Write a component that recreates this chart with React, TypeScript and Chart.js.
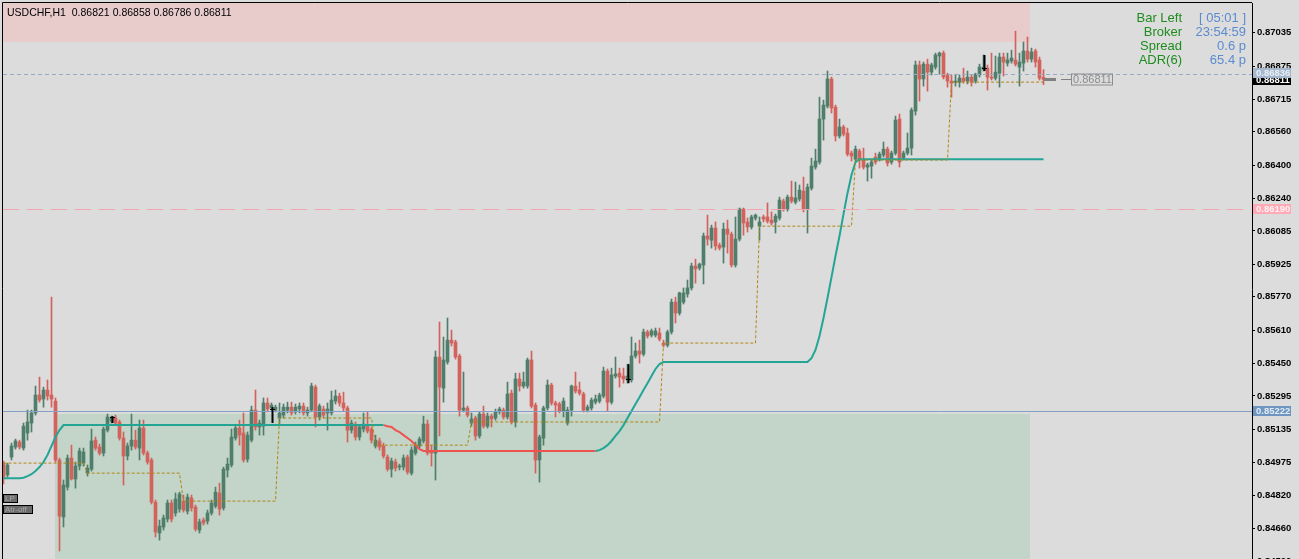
import React, { useEffect, useRef } from 'react';
import { Chart, registerables } from 'chart.js';

Chart.register(...registerables);

// ---------------- data ----------------
const SYMBOL = 'USDCHF,H1';

const opens = [
  0.84973, 0.84916, 0.85002, 0.85050, 0.85074, 0.85045, 0.85117, 0.85165, 0.85213, 0.85299,
  0.85280, 0.85323, 0.85299, 0.85270, 0.84988, 0.84715, 0.84858, 0.84997, 0.84897, 0.84959,
  0.84973, 0.84925, 0.84944, 0.85083, 0.85050, 0.85021, 0.85131, 0.85174, 0.85189, 0.85170,
  0.85093, 0.85007, 0.85055, 0.85083, 0.85045, 0.85141, 0.85021, 0.84988, 0.84786, 0.84638,
  0.84667, 0.84705, 0.84782, 0.84734, 0.84753, 0.84791, 0.84743, 0.84806, 0.84762, 0.84652,
  0.84700, 0.84695, 0.84734, 0.84767, 0.84830, 0.84758, 0.84940, 0.84964, 0.85093, 0.85141,
  0.85117, 0.84992, 0.85083, 0.85227, 0.85146, 0.85150, 0.85261, 0.85237, 0.85227, 0.85189,
  0.85203, 0.85227, 0.85241, 0.85218, 0.85232, 0.85246, 0.85213, 0.85227, 0.85337, 0.85194,
  0.85232, 0.85213, 0.85213, 0.85270, 0.85294, 0.85261, 0.85237, 0.85131, 0.85155, 0.85098,
  0.85136, 0.85150, 0.85136, 0.85055, 0.85079, 0.85055, 0.85002, 0.84944, 0.84978, 0.84954,
  0.84954, 0.85002, 0.84925, 0.85021, 0.85055, 0.85079, 0.85160, 0.85031, 0.85021, 0.85481,
  0.85332, 0.85457, 0.85562, 0.85553, 0.85486, 0.85227, 0.85237, 0.85165, 0.85189, 0.85103,
  0.85208, 0.85150, 0.85198, 0.85189, 0.85218, 0.85227, 0.85194, 0.85308, 0.85170, 0.85376,
  0.85342, 0.85342, 0.85467, 0.85251, 0.84988, 0.85093, 0.85237, 0.85347, 0.85261, 0.85256,
  0.85222, 0.85165, 0.85227, 0.85342, 0.85323, 0.85304, 0.85227, 0.85237, 0.85265, 0.85270,
  0.85294, 0.85414, 0.85265, 0.85390, 0.85404, 0.85390, 0.85371, 0.85371, 0.85486, 0.85510,
  0.85495, 0.85601, 0.85586, 0.85586, 0.85596, 0.85548, 0.85538, 0.85601, 0.85744, 0.85692,
  0.85744, 0.85783, 0.85812, 0.85917, 0.85907, 0.85922, 0.86061, 0.86041, 0.86099, 0.86017,
  0.86008, 0.86094, 0.86070, 0.85922, 0.86046, 0.86190, 0.86128, 0.86104, 0.86147, 0.86108,
  0.86152, 0.86152, 0.86137, 0.86128, 0.86147, 0.86228, 0.86190, 0.86247, 0.86223, 0.86238,
  0.86276, 0.86190, 0.86290, 0.86391, 0.86415, 0.86621, 0.86683, 0.86813, 0.86678, 0.86540,
  0.86583, 0.86554, 0.86458, 0.86429, 0.86468, 0.86429, 0.86391, 0.86396, 0.86439, 0.86429,
  0.86449, 0.86477, 0.86415, 0.86458, 0.86621, 0.86434, 0.86458, 0.86482, 0.86659, 0.86880,
  0.86813, 0.86884, 0.86846, 0.86870, 0.86923, 0.86937, 0.86832, 0.86803, 0.86798, 0.86798,
  0.86817, 0.86803, 0.86822, 0.86803, 0.86832, 0.86860, 0.86865, 0.86822, 0.86817, 0.86841,
  0.86918, 0.86889, 0.86899, 0.86904, 0.86870, 0.86889, 0.86947, 0.86908, 0.86947, 0.86904,
  0.86821,
];

const highs = [
  0.84983, 0.84973, 0.85069, 0.85088, 0.85083, 0.85165, 0.85227, 0.85227, 0.85342, 0.85385,
  0.85337, 0.85371, 0.85768, 0.85285, 0.84997, 0.84892, 0.85012, 0.85059, 0.84978, 0.85045,
  0.85045, 0.84964, 0.85136, 0.85098, 0.85064, 0.85146, 0.85208, 0.85198, 0.85203, 0.85179,
  0.85122, 0.85069, 0.85208, 0.85131, 0.85179, 0.85179, 0.85031, 0.84997, 0.84796, 0.84700,
  0.84724, 0.84796, 0.84796, 0.84830, 0.84834, 0.84820, 0.84825, 0.84820, 0.84772, 0.84705,
  0.84710, 0.84748, 0.84796, 0.84858, 0.84877, 0.84954, 0.84997, 0.85136, 0.85155, 0.85179,
  0.85213, 0.85122, 0.85246, 0.85323, 0.85179, 0.85285, 0.85285, 0.85261, 0.85251, 0.85261,
  0.85256, 0.85265, 0.85265, 0.85256, 0.85261, 0.85261, 0.85241, 0.85356, 0.85347, 0.85256,
  0.85246, 0.85261, 0.85318, 0.85323, 0.85308, 0.85313, 0.85246, 0.85179, 0.85170, 0.85155,
  0.85213, 0.85218, 0.85146, 0.85107, 0.85093, 0.85069, 0.85012, 0.84997, 0.84992, 0.84968,
  0.85012, 0.85012, 0.85050, 0.85074, 0.85098, 0.85198, 0.85179, 0.85059, 0.85510, 0.85649,
  0.85577, 0.85668, 0.85610, 0.85562, 0.85495, 0.85409, 0.85246, 0.85213, 0.85198, 0.85218,
  0.85246, 0.85213, 0.85208, 0.85232, 0.85241, 0.85237, 0.85361, 0.85323, 0.85404, 0.85404,
  0.85409, 0.85476, 0.85510, 0.85261, 0.85107, 0.85246, 0.85371, 0.85356, 0.85270, 0.85265,
  0.85285, 0.85241, 0.85347, 0.85409, 0.85361, 0.85313, 0.85251, 0.85285, 0.85299, 0.85308,
  0.85433, 0.85424, 0.85428, 0.85481, 0.85428, 0.85428, 0.85447, 0.85577, 0.85548, 0.85562,
  0.85615, 0.85610, 0.85615, 0.85620, 0.85620, 0.85562, 0.85610, 0.85759, 0.85768, 0.85792,
  0.85812, 0.85850, 0.85931, 0.85950, 0.85931, 0.86075, 0.86161, 0.86113, 0.86128, 0.86027,
  0.86123, 0.86137, 0.86080, 0.86152, 0.86195, 0.86195, 0.86147, 0.86161, 0.86166, 0.86152,
  0.86161, 0.86219, 0.86176, 0.86166, 0.86247, 0.86238, 0.86257, 0.86324, 0.86319, 0.86305,
  0.86343, 0.86310, 0.86434, 0.86477, 0.86726, 0.86712, 0.86851, 0.86822, 0.86688, 0.86621,
  0.86592, 0.86578, 0.86468, 0.86492, 0.86477, 0.86482, 0.86410, 0.86425, 0.86458, 0.86463,
  0.86511, 0.86487, 0.86468, 0.86635, 0.86645, 0.86468, 0.86554, 0.86674, 0.86899, 0.86899,
  0.86894, 0.86908, 0.86889, 0.86937, 0.86942, 0.86947, 0.86841, 0.86832, 0.86836, 0.86832,
  0.86865, 0.86851, 0.86832, 0.86841, 0.86884, 0.86928, 0.86880, 0.86937, 0.86923, 0.86937,
  0.86937, 0.86937, 0.86951, 0.87042, 0.86937, 0.86990, 0.87014, 0.86961, 0.86956, 0.86918,
  0.86858,
];

const lows = [
  0.84873, 0.84906, 0.84988, 0.85040, 0.85040, 0.85035, 0.85083, 0.85122, 0.85203, 0.85265,
  0.85241, 0.85275, 0.85241, 0.84978, 0.84552, 0.84667, 0.84844, 0.84892, 0.84853, 0.84940,
  0.84959, 0.84911, 0.84935, 0.85035, 0.85012, 0.85007, 0.85122, 0.85165, 0.85155, 0.85083,
  0.84868, 0.84988, 0.85035, 0.85040, 0.84988, 0.85012, 0.84968, 0.84777, 0.84619, 0.84604,
  0.84652, 0.84691, 0.84691, 0.84719, 0.84738, 0.84738, 0.84729, 0.84743, 0.84647, 0.84638,
  0.84676, 0.84681, 0.84724, 0.84758, 0.84724, 0.84748, 0.84906, 0.84954, 0.85083, 0.85059,
  0.84978, 0.84978, 0.85074, 0.85131, 0.85107, 0.85107, 0.85218, 0.85227, 0.85218, 0.85155,
  0.85189, 0.85213, 0.85203, 0.85208, 0.85213, 0.85203, 0.85198, 0.85218, 0.85146, 0.85179,
  0.85189, 0.85131, 0.85203, 0.85256, 0.85246, 0.85222, 0.85074, 0.85117, 0.85083, 0.85083,
  0.85122, 0.85117, 0.85069, 0.85045, 0.85035, 0.84997, 0.84935, 0.84906, 0.84935, 0.84940,
  0.84940, 0.84920, 0.84916, 0.85012, 0.85045, 0.85069, 0.85012, 0.84959, 0.84892, 0.85103,
  0.85265, 0.85447, 0.85534, 0.85471, 0.85198, 0.85218, 0.85194, 0.85150, 0.85083, 0.85093,
  0.85141, 0.85141, 0.85146, 0.85179, 0.85208, 0.85184, 0.85184, 0.85160, 0.85146, 0.85318,
  0.85332, 0.85332, 0.85237, 0.84925, 0.84882, 0.85059, 0.85227, 0.85251, 0.85194, 0.85213,
  0.85194, 0.85155, 0.85198, 0.85308, 0.85299, 0.85218, 0.85218, 0.85227, 0.85256, 0.85261,
  0.85285, 0.85222, 0.85256, 0.85380, 0.85337, 0.85356, 0.85356, 0.85361, 0.85476, 0.85452,
  0.85486, 0.85572, 0.85577, 0.85577, 0.85558, 0.85529, 0.85529, 0.85591, 0.85644, 0.85682,
  0.85735, 0.85768, 0.85802, 0.85835, 0.85898, 0.85831, 0.86017, 0.86003, 0.85994, 0.85994,
  0.85931, 0.85979, 0.85912, 0.85912, 0.86037, 0.86065, 0.86080, 0.86094, 0.86137, 0.86041,
  0.86128, 0.86123, 0.86113, 0.86075, 0.86137, 0.86180, 0.86180, 0.86219, 0.86214, 0.86228,
  0.86176, 0.86075, 0.86281, 0.86381, 0.86405, 0.86520, 0.86674, 0.86650, 0.86516, 0.86530,
  0.86540, 0.86444, 0.86420, 0.86420, 0.86386, 0.86381, 0.86324, 0.86338, 0.86405, 0.86420,
  0.86439, 0.86396, 0.86405, 0.86449, 0.86391, 0.86425, 0.86449, 0.86449, 0.86640, 0.86707,
  0.86779, 0.86755, 0.86832, 0.86860, 0.86836, 0.86813, 0.86774, 0.86726, 0.86779, 0.86774,
  0.86793, 0.86789, 0.86779, 0.86793, 0.86822, 0.86851, 0.86760, 0.86808, 0.86808, 0.86774,
  0.86827, 0.86875, 0.86889, 0.86875, 0.86779, 0.86851, 0.86894, 0.86894, 0.86870, 0.86808,
  0.86786,
];

const closes = [
  0.84906, 0.84964, 0.85055, 0.85079, 0.85050, 0.85150, 0.85170, 0.85213, 0.85299, 0.85275,
  0.85323, 0.85294, 0.85280, 0.84988, 0.84719, 0.84868, 0.84997, 0.84897, 0.84959, 0.85031,
  0.85026, 0.84949, 0.85079, 0.85045, 0.85021, 0.85136, 0.85194, 0.85189, 0.85165, 0.85093,
  0.85007, 0.85055, 0.85083, 0.85050, 0.85141, 0.85021, 0.84978, 0.84786, 0.84643, 0.84671,
  0.84710, 0.84782, 0.84705, 0.84801, 0.84825, 0.84748, 0.84810, 0.84758, 0.84657, 0.84691,
  0.84686, 0.84734, 0.84782, 0.84834, 0.84753, 0.84944, 0.84968, 0.85098, 0.85141, 0.85107,
  0.84988, 0.85107, 0.85227, 0.85146, 0.85165, 0.85261, 0.85232, 0.85251, 0.85241, 0.85213,
  0.85241, 0.85241, 0.85213, 0.85241, 0.85246, 0.85213, 0.85227, 0.85342, 0.85194, 0.85246,
  0.85203, 0.85232, 0.85275, 0.85294, 0.85261, 0.85237, 0.85131, 0.85165, 0.85098, 0.85146,
  0.85160, 0.85126, 0.85083, 0.85083, 0.85050, 0.85007, 0.84944, 0.84983, 0.84949, 0.84959,
  0.84997, 0.84930, 0.85035, 0.85059, 0.85088, 0.85160, 0.85021, 0.85021, 0.85481, 0.85337,
  0.85467, 0.85562, 0.85548, 0.85481, 0.85227, 0.85237, 0.85203, 0.85184, 0.85103, 0.85208,
  0.85150, 0.85198, 0.85184, 0.85218, 0.85232, 0.85194, 0.85304, 0.85170, 0.85376, 0.85342,
  0.85361, 0.85467, 0.85246, 0.84988, 0.85098, 0.85237, 0.85347, 0.85261, 0.85251, 0.85222,
  0.85270, 0.85227, 0.85342, 0.85318, 0.85308, 0.85227, 0.85241, 0.85275, 0.85280, 0.85299,
  0.85414, 0.85265, 0.85395, 0.85400, 0.85385, 0.85376, 0.85390, 0.85486, 0.85510, 0.85495,
  0.85601, 0.85582, 0.85606, 0.85606, 0.85567, 0.85538, 0.85601, 0.85744, 0.85692, 0.85788,
  0.85788, 0.85812, 0.85917, 0.85903, 0.85926, 0.86061, 0.86046, 0.86099, 0.86013, 0.86003,
  0.86094, 0.86070, 0.85922, 0.86046, 0.86190, 0.86123, 0.86104, 0.86152, 0.86161, 0.86128,
  0.86142, 0.86132, 0.86123, 0.86156, 0.86233, 0.86190, 0.86247, 0.86228, 0.86243, 0.86281,
  0.86190, 0.86295, 0.86396, 0.86420, 0.86621, 0.86688, 0.86813, 0.86674, 0.86540, 0.86583,
  0.86549, 0.86453, 0.86444, 0.86477, 0.86429, 0.86391, 0.86401, 0.86415, 0.86415, 0.86453,
  0.86477, 0.86410, 0.86458, 0.86616, 0.86415, 0.86458, 0.86482, 0.86664, 0.86880, 0.86813,
  0.86884, 0.86846, 0.86880, 0.86928, 0.86937, 0.86822, 0.86803, 0.86793, 0.86803, 0.86817,
  0.86803, 0.86822, 0.86798, 0.86836, 0.86870, 0.86870, 0.86822, 0.86817, 0.86846, 0.86918,
  0.86894, 0.86904, 0.86913, 0.86884, 0.86894, 0.86947, 0.86908, 0.86942, 0.86894, 0.86817,
  0.86811,
];

// price-axis tick labels (MT4 style, uneven)
const yTicks = [
  0.87035, 0.86875, 0.86715, 0.86560, 0.86400, 0.86240, 0.86085, 0.85925, 0.85770,
  0.85610, 0.85450, 0.85295, 0.85135, 0.84975, 0.84820, 0.84660, 0.84500,
];
const Y_MAX = 0.87177;
const Y_MIN = 0.84437;

// trailing stop line: [bar index, price]
const stopLine = [
  [0, 0.84901], [4, 0.84901], [5, 0.84903], [6, 0.84911], [7, 0.84920], [8, 0.84935],
  [9, 0.84954], [10, 0.84978], [11, 0.85012], [12, 0.85055], [13, 0.85098], [14, 0.85131],
  [15, 0.85155], [95, 0.85155], [96, 0.85150], [97, 0.85146], [98, 0.85131], [99, 0.85122],
  [100, 0.85107], [101, 0.85093], [102, 0.85079], [103, 0.85059], [104, 0.85040], [105, 0.85031],
  [148, 0.85031], [149, 0.85035], [150, 0.85045], [151, 0.85059], [152, 0.85079], [153, 0.85103],
  [154, 0.85126], [155, 0.85155], [156, 0.85189], [157, 0.85222], [158, 0.85256], [159, 0.85289],
  [160, 0.85323], [161, 0.85356], [162, 0.85390], [163, 0.85424], [164, 0.85447], [165, 0.85457],
  [201, 0.85457], [202, 0.85476], [203, 0.85515], [204, 0.85582], [205, 0.85668], [206, 0.85764],
  [207, 0.85864], [208, 0.85965], [209, 0.86061], [210, 0.86166], [211, 0.86266], [212, 0.86353],
  [213, 0.86415], [214, 0.86429], [260, 0.86429],
];
const stopDownFrom = 95;
const stopDownTo = 148;

// stepped level line: [bar index, price]
const levelLine = [
  [0, 0.84973], [20, 0.84973], [21, 0.84925], [44, 0.84925], [45, 0.84791], [68, 0.84791],
  [69, 0.85189], [92, 0.85189], [93, 0.85059], [116, 0.85059], [117, 0.85170], [164, 0.85170],
  [165, 0.85548], [188, 0.85548], [189, 0.86108], [212, 0.86108], [213, 0.86425], [236, 0.86425],
  [237, 0.86798], [260, 0.86798],
];

// cross markers: [bar index, top, bottom, bar]
const markers = [
  [27, 0.85198, 0.85165, 0.85194],
  [67, 0.85241, 0.85165, 0.85232],
  [156, 0.85447, 0.85356, 0.85376],
  [245, 0.86928, 0.86851, 0.86865],
];

const supplyZone = { from: -2, to: 256.6, top: 0.8750, bottom: 0.86990 };
const demandZone = { from: 12.9, to: 256.6, top: 0.85208, bottom: 0.8430 };

const askPrice = 0.86836;
const bidPrice = closes[closes.length - 1];
const pinkLevel = 0.86190;
const blueLevel = 0.85222;

const infoLabels = ['Bar Left', 'Broker', 'Spread', 'ADR(6)'];
const infoValues = ['[ 05:01 ]', '23:54:59', '0.6 p', '65.4 p'];

// ---------------- styles ----------------
const BG = '#dcdcdc';
const UP = '#4f7e6a';
const DOWN = '#d3625d';
const FONT = '"Liberation Sans", Arial, sans-serif';

const fmt = (v: number) => v.toFixed(5);

const overlayPlugin = {
  id: 'mt4overlay',
  beforeDraw(chart: any) {
    const { ctx, width, height } = chart;
    ctx.save();
    ctx.fillStyle = BG;
    ctx.fillRect(0, 0, width, height);
    ctx.restore();
  },
  beforeDatasetsDraw(chart: any) {
    const { ctx, chartArea: a, scales } = chart;
    const x = scales.x, y = scales.y;
    ctx.save();
    ctx.beginPath();
    ctx.rect(a.left, a.top, a.right - a.left, a.bottom - a.top);
    ctx.clip();
    const drawZone = (z: any, color: string) => {
      const x0 = Math.round(x.getPixelForValue(z.from));
      const x1 = Math.round(x.getPixelForValue(z.to));
      const y0 = Math.round(y.getPixelForValue(z.top));
      const y1 = Math.round(y.getPixelForValue(z.bottom));
      ctx.fillStyle = color;
      ctx.fillRect(x0, y0, x1 - x0, y1 - y0);
    };
    drawZone(supplyZone, '#e8cbcb');
    drawZone(demandZone, '#c3d4c8');
    ctx.restore();
  },
  afterDatasetsDraw(chart: any) {
    const { ctx, chartArea: a, scales } = chart;
    const x = scales.x, y = scales.y;
    ctx.save();
    ctx.beginPath();
    ctx.rect(a.left, a.top, a.right - a.left, a.bottom - a.top);
    ctx.clip();
    const hline = (v: number, color: string, dash: number[], x1: number) => {
      const py = Math.round(y.getPixelForValue(v)) + 0.5;
      ctx.strokeStyle = color;
      ctx.lineWidth = 1;
      ctx.setLineDash(dash);
      ctx.beginPath();
      ctx.moveTo(a.left, py);
      ctx.lineTo(x1, py);
      ctx.stroke();
    };
    hline(pinkLevel, '#f2a5b0', [16, 8], a.right - 7);
    hline(blueLevel, '#84a0c4', [], a.right);
    hline(askPrice, '#97abc4', [4, 3], a.right);
    ctx.setLineDash([]);

    // cross markers
    ctx.strokeStyle = '#000';
    for (const [i, top, bot, bar] of markers) {
      const px = Math.round(x.getPixelForValue(i)) + 0.5;
      ctx.lineWidth = 2;
      ctx.beginPath();
      ctx.moveTo(px, y.getPixelForValue(top));
      ctx.lineTo(px, y.getPixelForValue(bot));
      ctx.stroke();
      ctx.lineWidth = 1;
      const by = Math.round(y.getPixelForValue(bar)) + 0.5;
      ctx.beginPath();
      ctx.moveTo(px - 2.5, by);
      ctx.lineTo(px + 2.5, by);
      ctx.stroke();
    }

    // current price tag
    const last = closes.length - 1;
    const lx = Math.round(x.getPixelForValue(last));
    const ly = Math.round(y.getPixelForValue(bidPrice)) + 0.5;
    ctx.strokeStyle = '#808080';
    ctx.lineWidth = 3;
    ctx.beginPath();
    ctx.moveTo(lx, ly);
    ctx.lineTo(lx + 12, ly);
    ctx.stroke();
    ctx.lineWidth = 1;
    ctx.beginPath();
    ctx.moveTo(lx + 17, ly);
    ctx.lineTo(lx + 27, ly);
    ctx.stroke();
    ctx.strokeStyle = '#8c8c8c';
    ctx.strokeRect(lx + 27.5, ly - 5.5, 41, 11);
    ctx.fillStyle = '#8c8c8c';
    ctx.font = `11px ${FONT}`;
    ctx.textBaseline = 'middle';
    ctx.textAlign = 'left';
    ctx.fillText(fmt(bidPrice), lx + 29, ly + 0.5);
    ctx.restore();
  },
  afterDraw(chart: any) {
    const { ctx, chartArea: a, scales } = chart;
    const y = scales.y;
    ctx.save();
    // frame
    ctx.strokeStyle = '#000';
    ctx.lineWidth = 1;
    ctx.beginPath();
    ctx.moveTo(a.left - 0.5, a.bottom);
    ctx.lineTo(a.left - 0.5, a.top - 0.5);
    ctx.lineTo(a.right, a.top - 0.5);
    ctx.stroke();

    // title
    const last = closes.length - 1;
    ctx.fillStyle = '#000';
    ctx.font = `10.5px ${FONT}`;
    ctx.textAlign = 'left';
    ctx.textBaseline = 'alphabetic';
    ctx.fillText(
      `${SYMBOL}  ${fmt(opens[last])} ${fmt(highs[last])} ${fmt(lows[last])} ${fmt(closes[last])}`,
      a.left + 4, 16
    );

    // info panel
    ctx.font = `13px ${FONT}`;
    ctx.textAlign = 'right';
    infoLabels.forEach((t, k) => {
      const by = 21.5 + k * 14.2;
      ctx.fillStyle = '#1e8c1e';
      ctx.fillText(t, a.right - 70, by);
      ctx.fillStyle = '#5b8bd0';
      ctx.fillText(infoValues[k], a.right - 6, by);
    });

    // LP / Atr-off buttons
    const btn = (label: string, bx: number, by: number, w: number) => {
      ctx.fillStyle = '#6c6c6c';
      ctx.fillRect(bx, by, w, 9);
      ctx.strokeStyle = '#000';
      ctx.strokeRect(bx + 0.5, by + 0.5, w - 1, 8);
      ctx.fillStyle = '#a8a8a8';
      ctx.font = `8px ${FONT}`;
      ctx.textAlign = 'left';
      ctx.textBaseline = 'middle';
      ctx.fillText(label, bx + 2, by + 5);
    };
    btn('LP', a.left, 494, 15);
    btn('Atr-off', a.left, 505, 30);

    // axis price boxes
    const box = (v: number, fill: string, text: string, dy: number) => {
      const py = Math.round(y.getPixelForValue(v)) + dy;
      ctx.fillStyle = fill;
      ctx.fillRect(a.right + 1, py - 5, 38, 10);
      ctx.fillStyle = text;
      ctx.font = `bold 9.5px ${FONT}`;
      ctx.textAlign = 'left';
      ctx.textBaseline = 'middle';
      ctx.fillText(fmt(v), a.right + 4, py + 0.5);
    };
    box(bidPrice, '#000000', '#ffffff', 1);
    box(askPrice, '#a6b8cd', '#e9eef5', -1);
    box(pinkLevel, '#ffaab6', '#fff0f2', 0);
    box(blueLevel, '#6f95c1', '#e3ecf6', 0);
    ctx.restore();
  },
};

export default function App() {
  const ref = useRef<HTMLCanvasElement | null>(null);

  useEffect(() => {
    if (!ref.current) return;
    const idx = opens.map((_, i) => i);
    const colors = idx.map((i) => (closes[i] >= opens[i] ? UP : DOWN));
    const chart = new Chart(ref.current, {
      type: 'bar',
      data: {
        datasets: [
          {
            type: 'line',
            data: levelLine.map(([px, py]) => ({ x: px, y: py })),
            borderColor: '#b08614',
            borderWidth: 1,
            borderDash: [3, 2],
            pointRadius: 0,
            tension: 0,
            order: 0,
          } as any,
          {
            type: 'line',
            data: stopLine.map(([px, py]) => ({ x: px, y: py })),
            borderColor: '#23a596',
            borderWidth: 2,
            pointRadius: 0,
            tension: 0,
            order: 1,
            segment: {
              borderColor: (c: any) =>
                c.p0.parsed.x >= stopDownFrom && c.p1.parsed.x <= stopDownTo ? '#ef5350' : '#23a596',
            },
          } as any,
          {
            type: 'bar',
            data: idx.map((i) => ({ x: i, y: [opens[i], closes[i]] })),
            backgroundColor: colors,
            barThickness: 3,
            minBarLength: 1,
            grouped: false,
            borderWidth: 0,
            order: 2,
          } as any,
          {
            type: 'bar',
            data: idx.map((i) => ({ x: i, y: [lows[i], highs[i]] })),
            backgroundColor: colors,
            barThickness: 1,
            grouped: false,
            borderWidth: 0,
            order: 3,
          } as any,
        ],
      },
      options: {
        responsive: false,
        animation: false,
        devicePixelRatio: 1,
        layout: { padding: { left: 3, top: 3, right: 0, bottom: 0 } },
        plugins: { legend: { display: false }, tooltip: { enabled: false } },
        events: [],
        scales: {
          x: {
            type: 'linear',
            display: false,
            offset: false,
            min: -0.125,
            max: 312.125,
          },
          y: {
            type: 'linear',
            position: 'right',
            min: Y_MIN,
            max: Y_MAX,
            bounds: 'data',
            afterBuildTicks: (axis: any) => {
              axis.ticks = yTicks.map((v) => ({ value: v }));
            },
            afterFit: (axis: any) => {
              axis.width = 47;
              axis.paddingTop = 0;
              axis.paddingBottom = 0;
            },
            ticks: {
              autoSkip: false,
              color: '#000',
              padding: 2,
              font: { family: FONT, size: 9.5, weight: 'bold' },
              callback: (v: any) => Number(v).toFixed(5),
            },
            grid: { drawOnChartArea: false, drawTicks: true, tickLength: 3, color: '#000' },
            border: { display: true, color: '#000', width: 1 },
          },
        },
      } as any,
      plugins: [overlayPlugin],
    });
    return () => chart.destroy();
  }, []);

  return (
    <div
      style={{
        position: 'fixed',
        left: 0,
        top: 0,
        width: 1299,
        height: 559,
        overflow: 'hidden',
        background: BG,
      }}
    >
      <canvas ref={ref} width={1299} height={575} style={{ display: 'block' }} />
    </div>
  );
}
